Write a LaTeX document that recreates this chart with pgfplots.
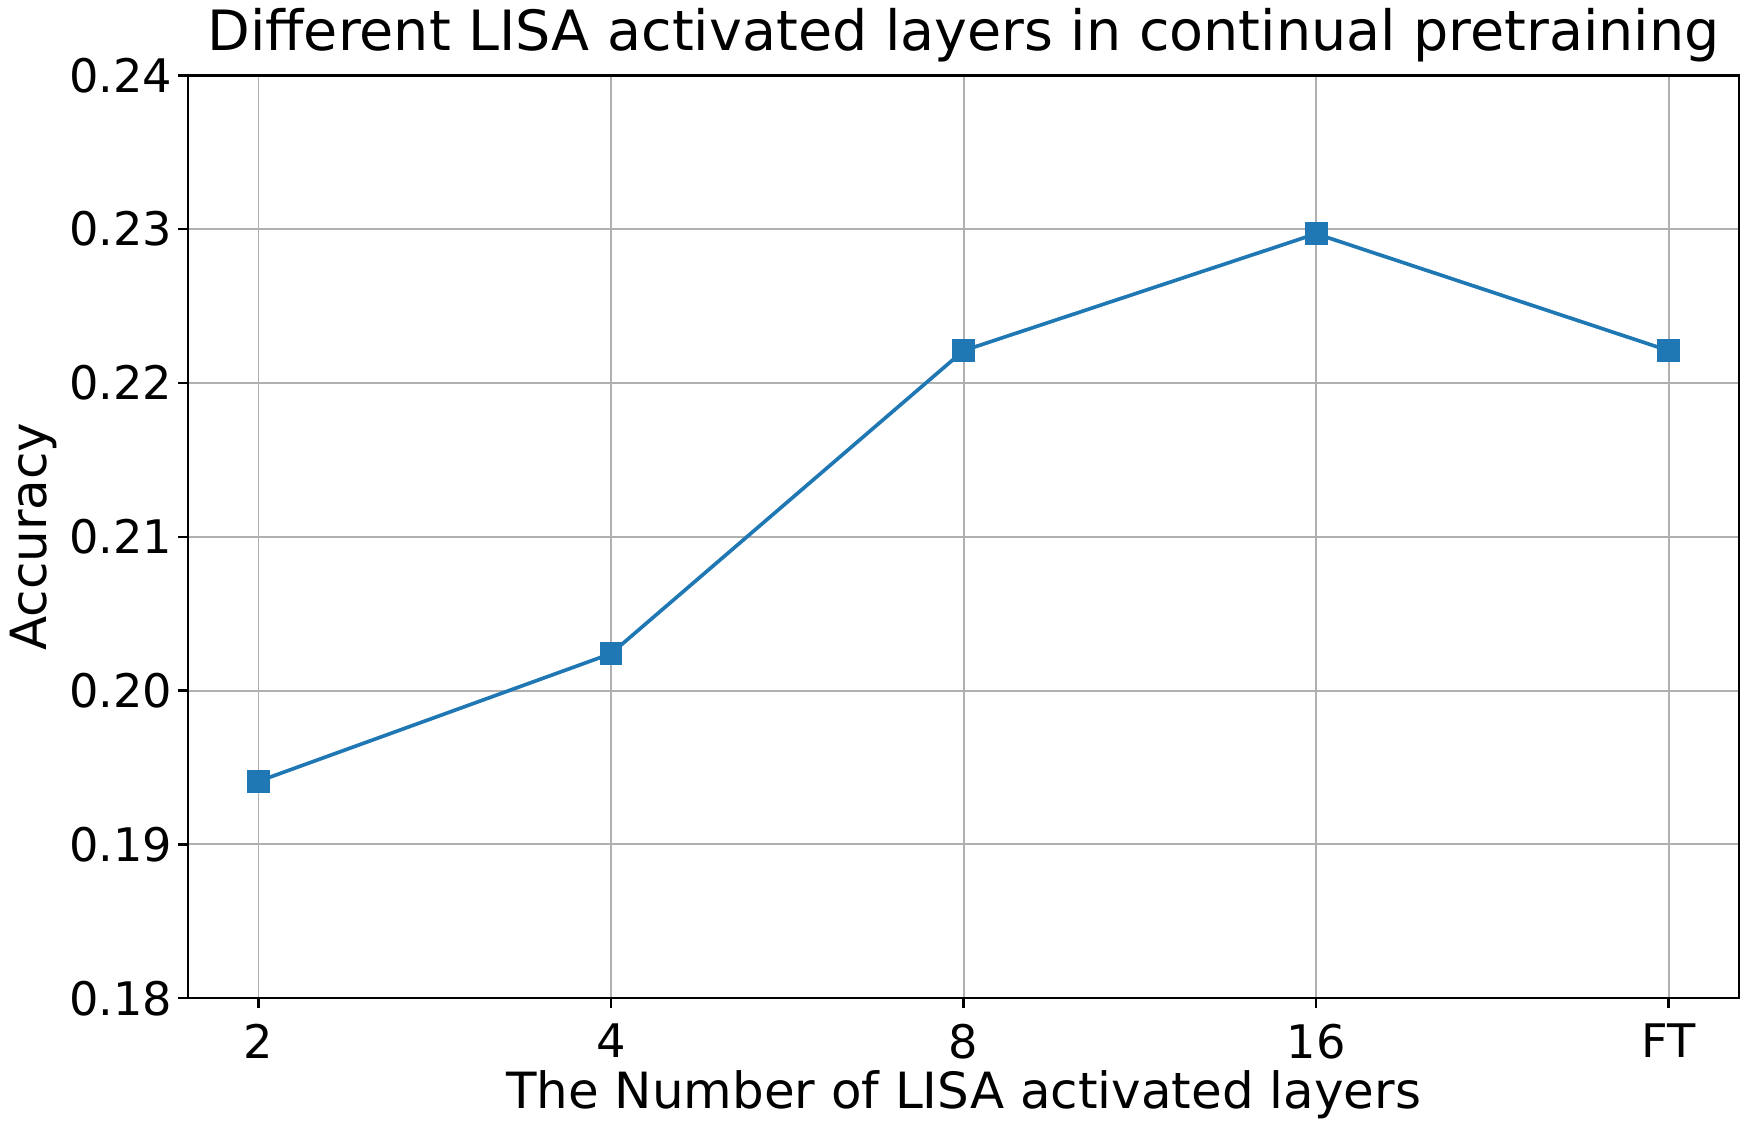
\documentclass[border=0pt]{standalone}
\usepackage{fontspec}
\setmainfont{DejaVu Sans}
\usepackage{pgfplots}
\pgfplotsset{compat=1.18}
\definecolor{mplblue}{HTML}{1F77B4}
\definecolor{gridgray}{HTML}{B0B0B0}
\begin{document}
\begin{tikzpicture}
    \begin{axis}[
        name=ax,
        scale only axis,
        width=637pt, height=379pt,
        xmin=-0.2, xmax=4.2,
        ymin=0.18, ymax=0.24,
        xtick={0,1,2,3,4},
        xticklabels={2, 4, 8, 16, FT},
        ytick={0.18,0.19,0.20,0.21,0.22,0.23,0.24},
        yticklabel style={/pgf/number format/fixed,
                          /pgf/number format/fixed zerofill,
                          /pgf/number format/precision=2,
                          xshift=1pt},
        /pgf/number format/assume math mode=true,
        tick label style={font=\fontsize{19}{22}\selectfont},
        tick pos=left,
        tick align=outside,
        major tick length=4pt,
        xticklabel style={yshift=-3pt},
        grid=major,
        grid style={gridgray, line width=0.8pt},
        axis line style={black, line width=1pt},
        tick style={black, line width=1pt},
        title={Different LISA activated layers in continual pretraining},
        title style={font=\fontsize{22.8}{27}\selectfont, yshift=-4pt},
        xlabel={The Number of LISA activated layers},
        ylabel={Accuracy},
        label style={font=\fontsize{20.5}{24}\selectfont},
        xlabel style={yshift=2pt},
        ylabel style={at={(axis description cs:-0.0997,0.5)}, anchor=center, rotate=0},
    ]
    \addplot[color=mplblue, line width=1.5pt, mark=square*, mark size=3.95pt,
             mark options={solid, fill=mplblue}]
        coordinates {(0,0.1941) (1,0.2024) (2,0.2221) (3,0.2297) (4,0.2221)};
    \end{axis}
    \useasboundingbox (ax.south west) ++(-77.2pt,-56pt) rectangle ([xshift=5.7pt, yshift=28.2pt]ax.north east);
\end{tikzpicture}
\end{document}
